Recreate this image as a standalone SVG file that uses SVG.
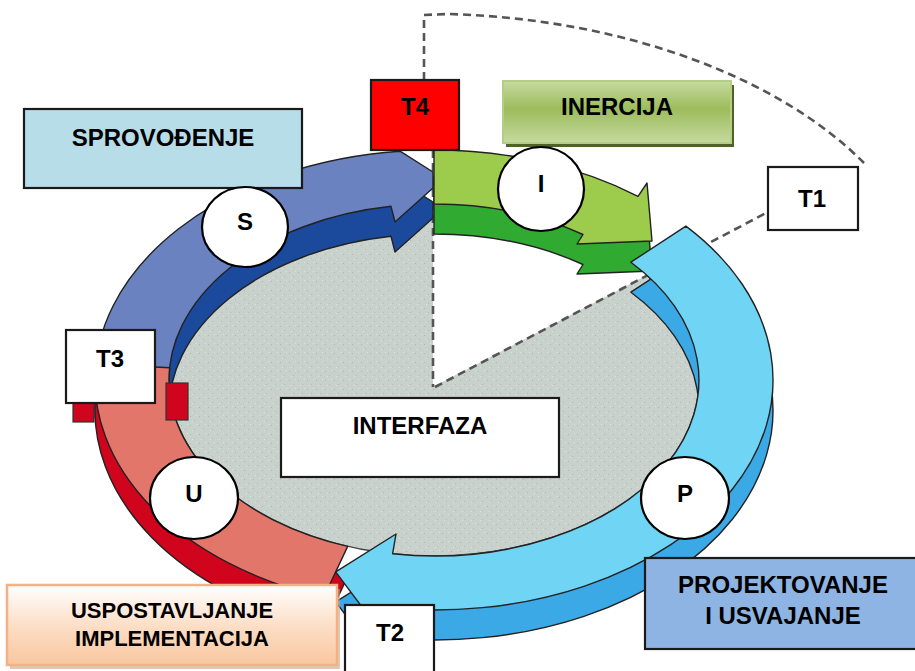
<svg xmlns="http://www.w3.org/2000/svg" xmlns:xlink="http://www.w3.org/1999/xlink" width="915" height="671" viewBox="0 0 915 671">
<style>
.edge{stroke:#222;stroke-width:1.4;stroke-linejoin:round}
.lbl{font-family:"Liberation Sans",Arial,sans-serif;font-weight:bold;font-size:24px;fill:#000;text-anchor:middle}
.box{stroke:#1a1a1a;stroke-width:2.2}
.circ{fill:#fff;stroke:#000;stroke-width:2.2}
.dash{fill:none;stroke:#555;stroke-width:2.6;stroke-dasharray:8 5}
.wall{fill:#D1041D;stroke:#333;stroke-width:1.2}
</style>
<defs>
<pattern id="speck" width="9" height="9" patternUnits="userSpaceOnUse">
<rect width="9" height="9" fill="#C9D1CD"/>
<rect x="1" y="2" width="1" height="1" fill="#AEB6B2"/>
<rect x="5" y="6" width="1" height="1" fill="#B5BDB9"/>
<rect x="7" y="1" width="1" height="1" fill="#DDE3E0"/>
<rect x="3" y="7" width="1" height="1" fill="#DDE3E0"/>
</pattern>
<path id="segS" d="M95.2,388.0 A339,230 0 0 1 400,151.2 L433,172 L433,188 L395,222 L391,206.3 A265,176 0 0 0 169.2,386.1 Z"/>
<path id="segI" d="M434,150 A339,230 0 0 1 638.0,196.3 L647,183 L652,241 L577,244 L583,234.5 A265,176 0 0 0 434,204 Z"/>
<path id="segP" d="M685.9,226.1 A339,230 0 0 1 381.0,607.2 L377,627 L335.7,571.9 L396,534 L392.6,553.8 A265,176 0 0 0 630.9,262.2 Z"/>
<path id="segU" d="M323.6,597.5 A339,230 0 0 1 95.8,364.0 L169.6,367.7 A265,176 0 0 0 347.7,546.4 Z"/>
<linearGradient id="gInercija" x1="0" y1="0" x2="0" y2="1">
<stop offset="0" stop-color="#C6DAA0"/><stop offset="0.45" stop-color="#9DBC5B"/><stop offset="1" stop-color="#C6DAA0"/>
</linearGradient>
<linearGradient id="gUsp" x1="0" y1="0" x2="0" y2="1">
<stop offset="0" stop-color="#FFFFFF"/><stop offset="0.55" stop-color="#FCDCC2"/><stop offset="1" stop-color="#F9C6A0"/>
</linearGradient>
</defs>

<g id="cycle">
<ellipse cx="434" cy="380" rx="265" ry="176" fill="url(#speck)" stroke="#444" stroke-width="1.5"/>
<polygon points="433,190 433,387 720,237 720,190" fill="#fff"/>
</g>

<g id="connectors">
<path class="dash" d="M424,80 L424,15 L448,14 C628,19 782,80 864,163"/>
<line class="dash" x1="433" y1="150" x2="433" y2="387"/>
<line class="dash" x1="435" y1="387" x2="768" y2="212"/>
</g>

<g id="ring">
<use href="#segS" transform="translate(0,30)" fill="#1B4A9C" class="edge"/>
<use href="#segI" transform="translate(0,30)" fill="#30AA30" class="edge"/>
<use href="#segP" transform="translate(0,30)" fill="#3BA9E6" class="edge"/>
<use href="#segU" transform="translate(0,30)" fill="#D1041D" class="edge"/>
<use href="#segS" fill="#6A82C0" class="edge"/>
<use href="#segU" fill="#E2766B" class="edge"/>
<use href="#segI" fill="#9DCB4B" class="edge"/>
<use href="#segP" fill="#70D4F4" class="edge"/>
<rect class="wall" x="73" y="398" width="21" height="24"/>
<rect class="wall" x="166" y="383" width="22" height="37"/>
</g>

<g id="node-T4">
<rect class="box" x="371" y="80" width="88" height="70" fill="#FF0000"/>
<text class="lbl" x="415" y="115">T4</text>
</g>
<g id="node-INERCIJA">
<rect x="506" y="85" width="228" height="62" fill="#4F6228"/>
<rect x="503" y="81" width="228" height="62" fill="url(#gInercija)" stroke="#B5CE86" stroke-width="2"/>
<text class="lbl" x="617" y="115">INERCIJA</text>
</g>
<g id="node-T1">
<rect class="box" x="768" y="167" width="90" height="63" fill="#fff"/>
<text class="lbl" x="812" y="207">T1</text>
</g>
<g id="node-SPROVODJENJE">
<rect class="box" x="24" y="109" width="278" height="79" fill="#B7DDE8"/>
<text class="lbl" x="163" y="146">SPROVOĐENJE</text>
</g>
<g id="node-T3">
<rect class="box" x="66" y="330" width="89" height="73" fill="#fff"/>
<text class="lbl" x="110" y="367">T3</text>
</g>
<g id="node-INTERFAZA">
<rect class="box" x="281" y="398" width="278" height="79" fill="#fff"/>
<text class="lbl" x="420" y="434">INTERFAZA</text>
</g>
<g id="node-USPOSTAVLJANJE">
<rect x="10" y="589" width="330" height="80" fill="#C8A487" opacity="0.6"/>
<rect x="7" y="585" width="330" height="80" fill="url(#gUsp)" stroke="#F4B183" stroke-width="2.5"/>
<text class="lbl" style="font-size:22px" x="172" y="618">USPOSTAVLJANJE</text>
<text class="lbl" style="font-size:22px" x="172" y="646">IMPLEMENTACIJA</text>
</g>
<g id="node-T2">
<rect class="box" x="345" y="605" width="89" height="80" fill="#fff"/>
<text class="lbl" x="390" y="641">T2</text>
</g>
<g id="node-PROJEKTOVANJE">
<rect class="box" x="645" y="558" width="280" height="91" fill="#8EB4E3"/>
<text class="lbl" x="783" y="593">PROJEKTOVANJE</text>
<text class="lbl" x="783" y="624">I USVAJANJE</text>
</g>

<g id="node-I">
<ellipse class="circ" cx="541" cy="189" rx="43" ry="42"/>
<text class="lbl" x="541" y="192">I</text>
</g>
<g id="node-S">
<ellipse class="circ" cx="245" cy="227" rx="43" ry="40"/>
<text class="lbl" x="245" y="230">S</text>
</g>
<g id="node-U">
<ellipse class="circ" cx="194" cy="498" rx="44" ry="41"/>
<text class="lbl" x="194" y="502">U</text>
</g>
<g id="node-P">
<ellipse class="circ" cx="685" cy="498" rx="44" ry="41"/>
<text class="lbl" x="685" y="502">P</text>
</g>
</svg>
